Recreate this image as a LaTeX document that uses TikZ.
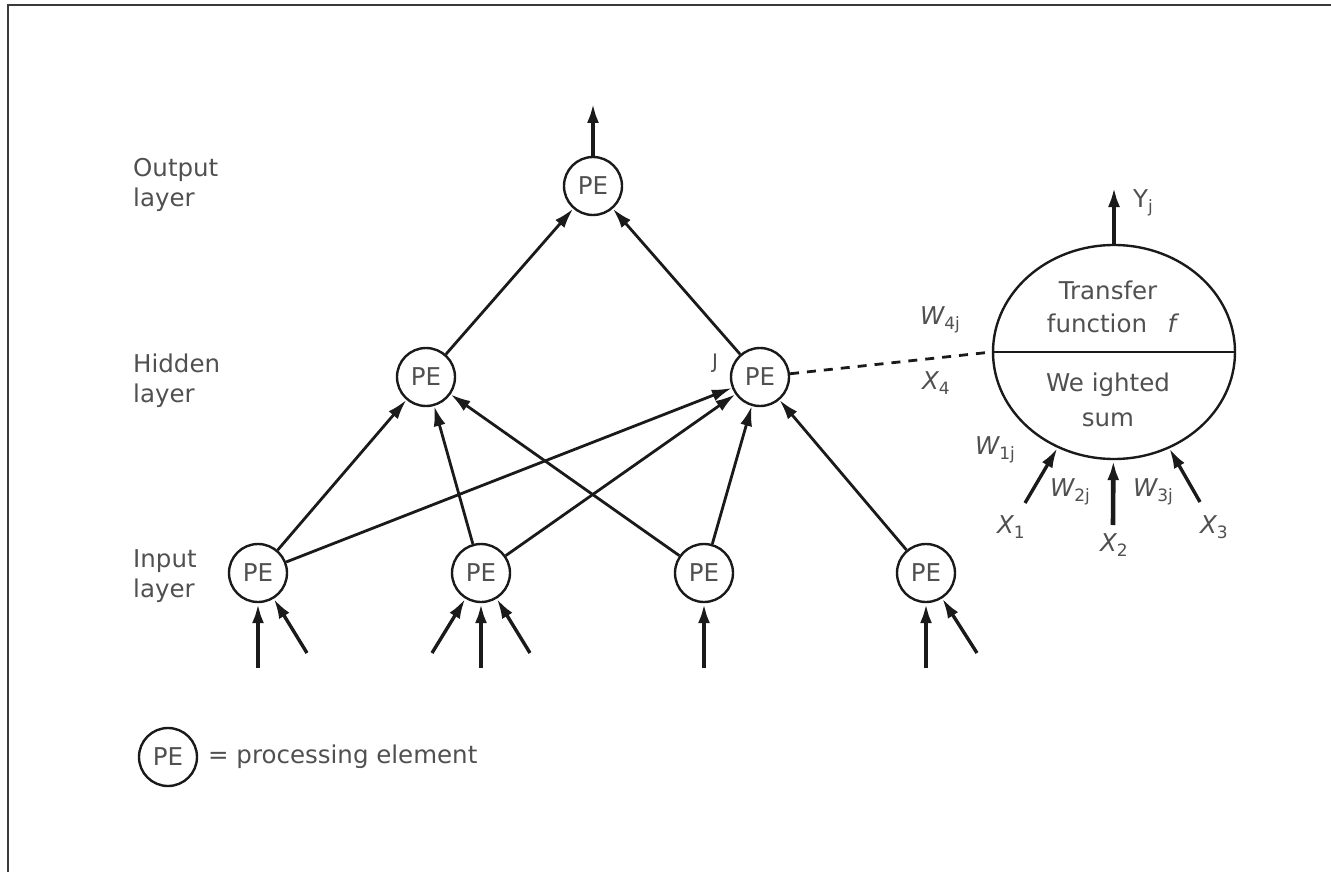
\documentclass[tikz,border=0pt]{standalone}
\usepackage{fontspec}
\setmainfont{DejaVu Sans}
\usetikzlibrary{shapes.geometric,arrows.meta}

\definecolor{ink}{HTML}{1A1A1A}
\definecolor{txt}{HTML}{505050}
\definecolor{frame}{HTML}{3A3A3A}

\newcommand\lblfont{\fontsize{24.5}{30}\selectfont}
\newcommand\lowsub[1]{\raisebox{-0.4ex}{\fontsize{17}{17}\selectfont #1}}

\begin{document}
\begin{tikzpicture}[x=1pt,y=-1pt,
  lbl/.style={text=txt, font=\lblfont, inner sep=0pt},
  pe/.style={circle, draw=ink, line width=2.4pt, minimum size=58pt,
             inner sep=0pt, text=txt, font=\lblfont},
  conn/.style={draw=ink, line width=2.8pt, -{Latex[length=20pt,width=12pt]}},
  feed/.style={conn, line width=4.6pt},
  slant/.style={conn, line width=3.4pt}]

\useasboundingbox (0,0) rectangle (1331,872);

% frame
\draw[frame, line width=2.5pt] (8,872) -- (8,5) -- (1331,5);

% layer labels
\node[lbl, anchor=base west] (outl1) at (133,177) {Output};
\node[lbl, anchor=base west] (outl2) at (133,207) {layer};
\node[lbl, anchor=base west] (hidl1) at (133,372) {Hidden};
\node[lbl, anchor=base west] (hidl2) at (133,402) {layer};
\node[lbl, anchor=base west] (inl1)  at (133,567) {Input};
\node[lbl, anchor=base west] (inl2)  at (133,597) {layer};

% processing elements
\node[pe] (out) at (593,186) {PE};
\node[pe] (hl)  at (426,377) {PE};
\node[pe] (hr)  at (760,377) {PE};
\node[pe] (i1)  at (258,573) {PE};
\node[pe] (i2)  at (481,573) {PE};
\node[pe] (i3)  at (704,573) {PE};
\node[pe] (i4)  at (926,573) {PE};
\node[text=txt, font=\fontsize{20}{20}\selectfont, inner sep=0pt] (jlab) at (715,363) {J};

% network connections
\draw[conn] (i1) -- (hl);
\draw[conn] (i1) -- (hr);
\draw[conn] (i2) -- (hl);
\draw[conn] (i2) -- (hr);
\draw[conn] (i3) -- (hl);
\draw[conn] (i3) -- (hr);
\draw[conn] (i4) -- (hr);
\draw[conn] (hl) -- (out);
\draw[conn] (hr) -- (out);

% output
\coordinate (outtop) at (593,103);
\draw[feed] (out) -- (outtop);

% external inputs
\coordinate (f1a) at (258,668);
\coordinate (f1b) at (307,653);
\coordinate (f2a) at (432,653);
\coordinate (f2b) at (481,668);
\coordinate (f2c) at (530,653);
\coordinate (f3a) at (704,668);
\coordinate (f4a) at (926,668);
\coordinate (f4b) at (977,653);
\draw[feed]  (f1a) -- (i1);
\draw[slant] (f1b) -- (i1);
\draw[slant] (f2a) -- (i2);
\draw[feed]  (f2b) -- (i2);
\draw[slant] (f2c) -- (i2);
\draw[feed]  (f3a) -- (i3);
\draw[feed]  (f4a) -- (i4);
\draw[slant] (f4b) -- (i4);

% detail of a single processing element
\node[ellipse, draw=ink, line width=2.4pt, minimum width=242pt,
      minimum height=214pt, inner sep=0pt] (big) at (1114,352) {};
\draw[ink, line width=2.4pt] (big.west) -- (big.east);
\draw[ink, line width=2.8pt, dash pattern=on 9pt off 8pt] (hr) -- (big.west);

\node[lbl] (tf1) at (1108,290) {Transfer};
\node[lbl] (tf2) at (1097,323) {function};
\node[lbl] (tff) at (1172,323) {\itshape f};
\node[lbl] (ws1) at (1108,385) {We ighted};
\node[lbl] (ws2) at (1108,420) {sum};

\coordinate (ytop) at (1114,187);
\draw[feed] (big) -- (ytop);
\node[lbl, anchor=west] (ylab) at (1133,203) {Y\lowsub{j}};

\coordinate (x1t) at (1025,503);
\coordinate (x2t) at (1113,525);
\coordinate (x3t) at (1200,502);
\draw[slant] (x1t) -- (big);
\draw[feed]  (x2t) -- (big);
\draw[slant] (x3t) -- (big);

\node[lbl, anchor=west] (w4) at (920,320) {\itshape W\lowsub{\upshape 4j}};
\node[lbl, anchor=west] (x4) at (922,383) {\itshape X\lowsub{\upshape 4}};
\node[lbl, anchor=west] (w1) at (975,450) {\itshape W\lowsub{\upshape 1j}};
\node[lbl, anchor=west] (x1) at (997,527) {\itshape X\lowsub{\upshape 1}};
\node[lbl, anchor=west] (w2) at (1050,492) {\itshape W\lowsub{\upshape 2j}};
\node[lbl, anchor=west] (x2) at (1100,545) {\itshape X\lowsub{\upshape 2}};
\node[lbl, anchor=west] (w3) at (1133,492) {\itshape W\lowsub{\upshape 3j}};
\node[lbl, anchor=west] (x3) at (1200,527) {\itshape X\lowsub{\upshape 3}};

% legend
\node[pe] (leg) at (168,757) {PE};
\node[lbl, anchor=west] (legtxt) at (208,757) {= processing element};
\end{tikzpicture}
\end{document}
